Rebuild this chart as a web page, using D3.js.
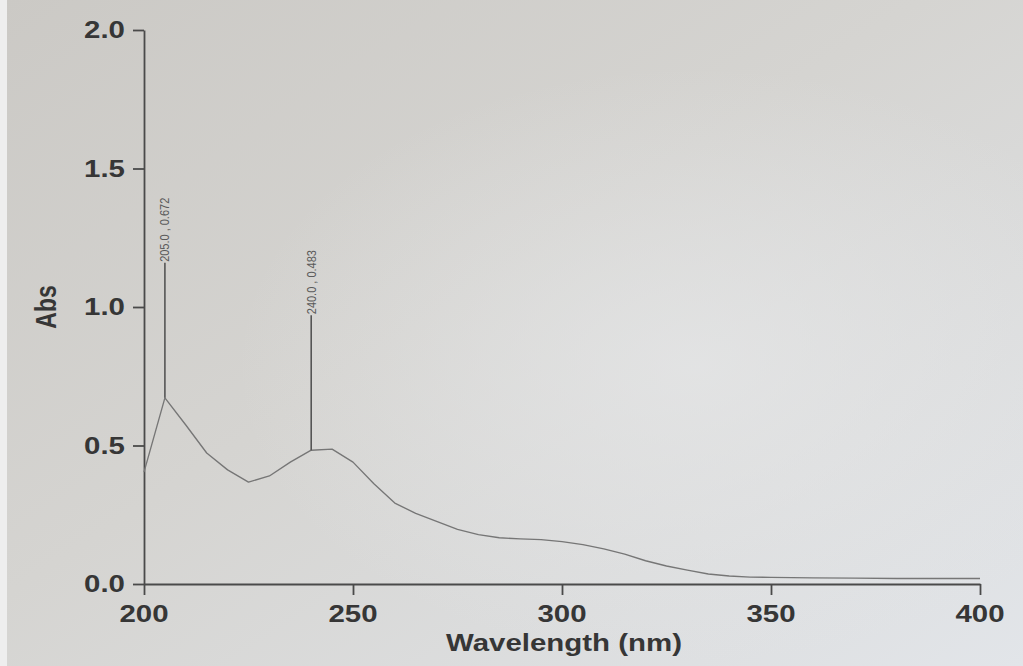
<!DOCTYPE html>
<html>
<head>
<meta charset="utf-8">
<script src="https://cdn.jsdelivr.net/npm/d3@7"></script>
<style>
  html, body { margin: 0; padding: 0; background: #d8d8d6; }
  svg { display: block; }
</style>
</head>
<body>
<svg id="chart" width="1023" height="666"></svg>
<script>
// UV-Vis absorption spectrum
const wavelengths = [200, 205, 210, 215, 220, 225, 230, 235, 240, 245, 250, 255, 260, 265, 270, 275,
                     280, 285, 290, 295, 300, 305, 310, 315, 320, 325, 330, 335, 340, 345, 350,
                     360, 370, 380, 390, 400];
const absorbance  = [0.404, 0.672, 0.574, 0.473, 0.412, 0.368, 0.390, 0.440, 0.483, 0.487, 0.440, 0.362,
                     0.292, 0.255, 0.226, 0.197, 0.178, 0.167, 0.163, 0.160, 0.153, 0.142, 0.127, 0.108,
                     0.084, 0.065, 0.050, 0.036, 0.029, 0.025, 0.024, 0.022, 0.021, 0.020, 0.020, 0.020];

// Picked peaks
const peakWavelengths = [205, 240];
const peakAbsorbance  = [0.672, 0.483];

// Axis ticks
const xTicks = [200, 250, 300, 350, 400];
const yTicks = [0.0, 0.5, 1.0, 1.5, 2.0];
const xTitle = "Wavelength (nm)";
const yTitle = "Abs";

const svg = d3.select("#chart");
const W = 1023, H = 666;
const stretch = 1.28;   // wide lettering of the printout

// paper background
const defs = svg.append("defs");
const lg = defs.append("linearGradient").attr("id", "paper")
  .attr("x1", "0").attr("y1", "0").attr("x2", "1").attr("y2", "1");
lg.append("stop").attr("offset", "0").attr("stop-color", "#cbc9c5");
lg.append("stop").attr("offset", "0.45").attr("stop-color", "#d5d4d1");
lg.append("stop").attr("offset", "1").attr("stop-color", "#e2e5e9");
const rg = defs.append("radialGradient").attr("id", "glow")
  .attr("cx", "0.68").attr("cy", "0.55").attr("r", "0.45");
rg.append("stop").attr("offset", "0").attr("stop-color", "#e6e7e8").attr("stop-opacity", 0.7);
rg.append("stop").attr("offset", "1").attr("stop-color", "#e6e7e8").attr("stop-opacity", 0);

svg.append("rect").attr("width", W).attr("height", H).attr("fill", "url(#paper)");
svg.append("rect").attr("width", W).attr("height", H).attr("fill", "url(#glow)");
svg.append("rect").attr("width", 7).attr("height", H).attr("fill", "#eeeeee");

const x = d3.scaleLinear().domain([200, 400]).range([144, 980]);
const y = d3.scaleLinear().domain([0, 2]).range([584, 30]);

const axisColor = "#4a4a4a";
const textColor = "#363636";

// axes
const gx = svg.append("g").attr("transform", `translate(0,${y(0)})`)
  .call(d3.axisBottom(x).tickValues(xTicks).tickSizeInner(11).tickSizeOuter(0).tickFormat(""));
const gy = svg.append("g").attr("transform", `translate(${x(200)},0)`)
  .call(d3.axisLeft(y).tickValues(yTicks).tickSizeInner(11).tickSizeOuter(0).tickFormat(""));
[gx, gy].forEach(g => {
  g.selectAll("path, line").attr("stroke", axisColor).attr("stroke-width", 1.8);
});

// tick labels
const labelFont = "'Liberation Sans', Arial, sans-serif";
svg.append("g").selectAll("text").data(xTicks).join("text")
  .attr("transform", d => `translate(${x(d)},622) scale(${stretch},1)`)
  .attr("text-anchor", "middle")
  .attr("font-family", labelFont).attr("font-weight", "bold").attr("font-size", 23)
  .attr("fill", textColor)
  .text(d => d);

svg.append("g").selectAll("text").data(yTicks).join("text")
  .attr("transform", d => `translate(125,${y(d) + 8}) scale(${stretch},1)`)
  .attr("text-anchor", "end")
  .attr("font-family", labelFont).attr("font-weight", "bold").attr("font-size", 23)
  .attr("fill", textColor)
  .text(d => d.toFixed(1));

// axis titles
svg.append("text")
  .attr("transform", `translate(${(x(200) + x(400)) / 2 + 2},651) scale(${stretch},1)`)
  .attr("text-anchor", "middle")
  .attr("font-family", labelFont).attr("font-weight", "bold").attr("font-size", 23)
  .attr("fill", textColor)
  .text(xTitle);

svg.append("text")
  .attr("transform", `translate(56,${y(1)}) scale(${stretch},1) rotate(-90)`)
  .attr("text-anchor", "middle")
  .attr("font-family", labelFont).attr("font-weight", "bold").attr("font-size", 23)
  .attr("fill", textColor)
  .text(yTitle);

// spectrum trace
const line = d3.line()
  .x((d, i) => x(wavelengths[i]))
  .y(d => y(d))
  .curve(d3.curveLinear);
svg.append("path")
  .datum(absorbance)
  .attr("d", line)
  .attr("fill", "none")
  .attr("stroke", "#767676")
  .attr("stroke-width", 1.35)
  .attr("stroke-linejoin", "round");

// peak markers with labels
const markerLen = 135;
const peaks = svg.append("g");
peakWavelengths.forEach((w, i) => {
  const px = x(w), py = y(peakAbsorbance[i]);
  peaks.append("line")
    .attr("x1", px).attr("x2", px)
    .attr("y1", py).attr("y2", py - markerLen)
    .attr("stroke", "#555555").attr("stroke-width", 1.6);
  peaks.append("text")
    .attr("transform", `translate(${px},${py - markerLen - 1}) scale(1.2,1) rotate(-90)`)
    .attr("text-anchor", "start")
    .attr("dominant-baseline", "central")
    .attr("font-family", labelFont).attr("font-size", 11)
    .attr("fill", "#5a5a5a")
    .text(`${w.toFixed(1)} , ${peakAbsorbance[i].toFixed(3)}`);
});
</script>
</body>
</html>
